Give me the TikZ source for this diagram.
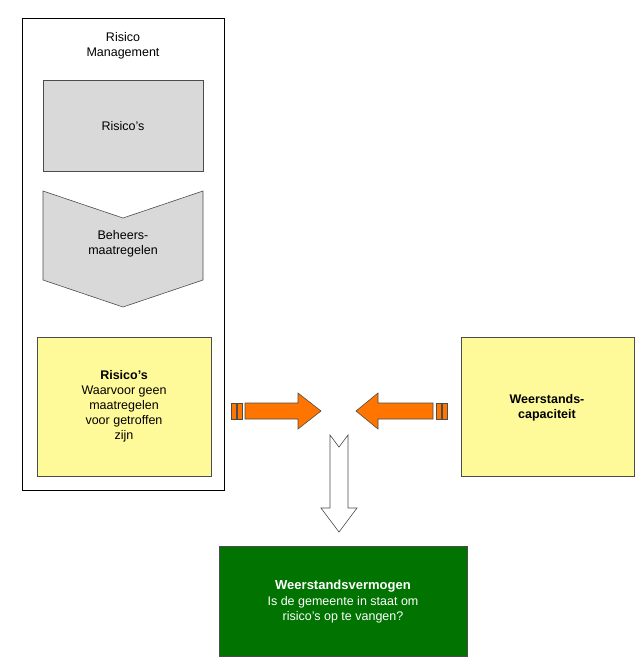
\documentclass[tikz,border=0pt]{standalone}
\usepackage{fontspec}
\setmainfont{Liberation Sans}
\begin{document}
\begin{tikzpicture}[x=1pt,y=-1pt,
  box/.style={draw=black!70,line width=0.6pt},
  ora/.style={draw=black!70,fill=orange!80!red!90!yellow,line width=0.6pt},
  txt/.style={align=center,font=\fontsize{12.5}{15}\selectfont}]
\useasboundingbox (0,0) rectangle (644,662);
\draw[line width=0.6pt] (22,18) rectangle (224,490);
\node[txt] (rm) at (123,46) {Risico\\Management};
\draw[box,fill=black!15] (43,80) rectangle (203,171);
\node[txt] (r1) at (123,126) {Risico’s};
\draw[box,fill=black!15] (43,191) -- (123,218) -- (203,191) -- (203,280) -- (123,307) -- (43,280) -- cycle;
\node[txt] (bh) at (123,244) {Beheers-\\maatregelen};
\draw[box,fill=yellow!40] (37,337) rectangle (211,476);
\node[txt] (r2) at (124,406) {\textbf{Risico’s}\\Waarvoor geen\\maatregelen\\voor getroffen\\zijn};
\draw[box,fill=yellow!40] (461,337) rectangle (634,476);
\node[txt,font=\bfseries\fontsize{12.5}{15}\selectfont] (wc) at (547,408) {Weerstands-\\capaciteit};
\draw[box,fill=green!45!black] (219,546) rectangle (467,656);
\node[txt,text=white] (wv) at (343,602) {\textbf{\fontsize{13}{16}\selectfont Weerstandsvermogen}\\[1pt]Is de gemeente in staat om\\risico’s op te vangen?};
% left arrow
\draw[ora] (231,403) rectangle (236,419);
\draw[ora] (237,403) rectangle (242,419);
\draw[ora] (245,403) -- (298,403) -- (298,393) -- (321,411) -- (298,429) -- (298,419) -- (245,419) -- cycle;
% right arrow
\draw[ora] (442,403) rectangle (447,419);
\draw[ora] (436,403) rectangle (441,419);
\draw[ora] (433,403) -- (378,403) -- (378,393) -- (356,411) -- (378,429) -- (378,419) -- (433,419) -- cycle;
% down arrow
\draw[box,fill=white] (330,435) -- (339,447) -- (348,435) -- (348,508) -- (357,508) -- (339,532) -- (321,508) -- (330,508) -- cycle;
\end{tikzpicture}
\end{document}
